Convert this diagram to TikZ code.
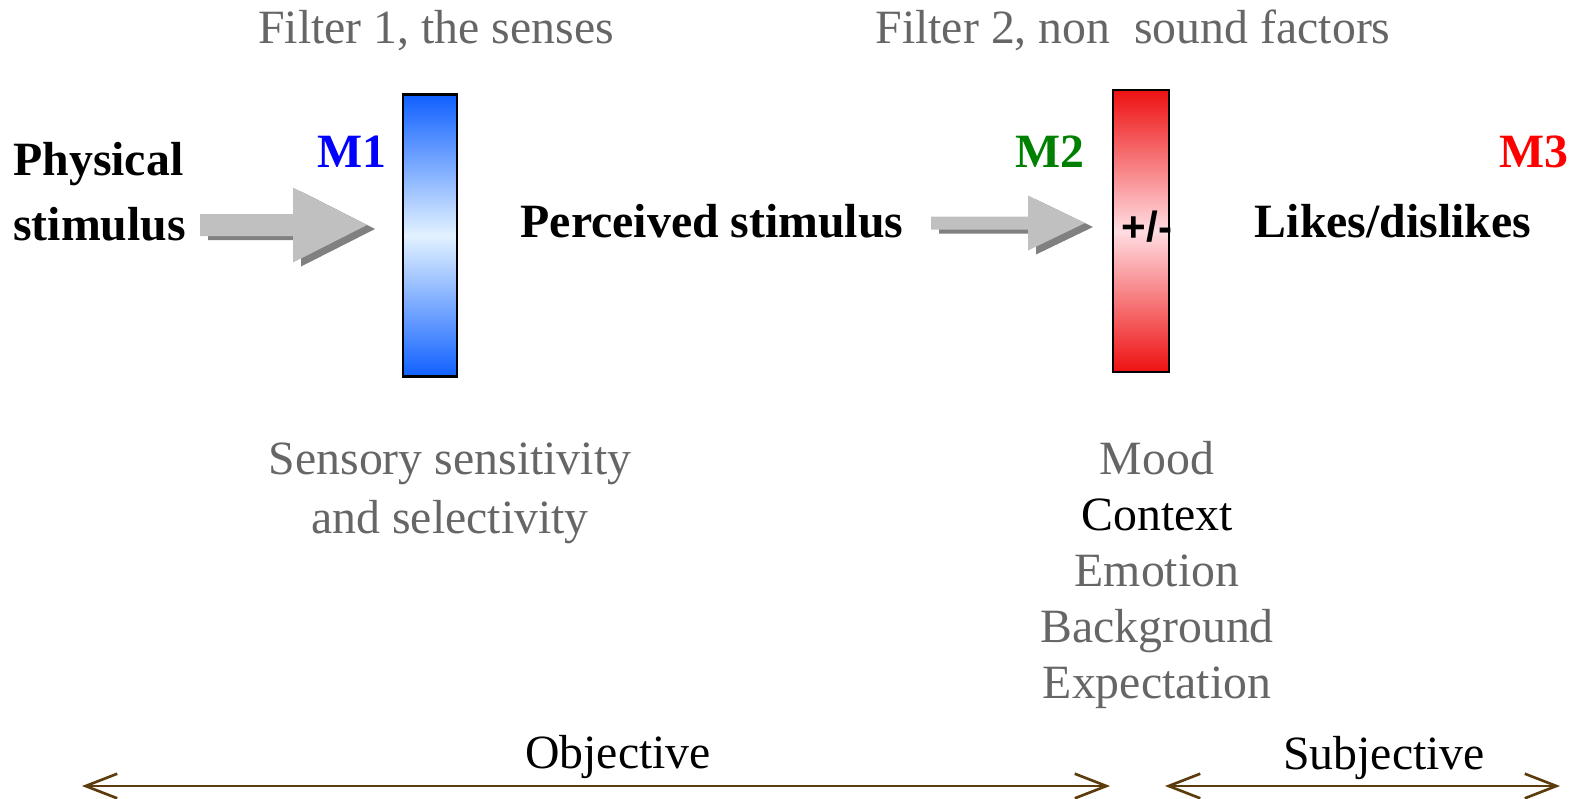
\documentclass[tikz,border=0pt]{standalone}
\usepackage{fontspec}
\setmainfont{Liberation Serif}
\newfontfamily\signfont{Liberation Sans}
\usepackage{xcolor}
\usepackage{tikz}
\usetikzlibrary{arrows.meta, positioning}
\definecolor{textgray}{HTML}{666666}
\definecolor{arrowgray}{HTML}{C0C0C0}
\definecolor{shadowgray}{HTML}{808080}
\definecolor{barblue}{HTML}{1060FF}
\definecolor{barlightblue}{HTML}{E2F2FF}
\definecolor{barred}{HTML}{EE1111}
\definecolor{barpink}{HTML}{FFDDE2}
\definecolor{axisbrown}{HTML}{5C3C0C}
\definecolor{mgreen}{HTML}{008000}

% fat grey arrow with its shadow: tail x, head back x, tip x, y, half body, half head
\newcommand{\fatarrow}[6]{%
  \foreach \sx/\sy/\col in {8/4/shadowgray, 0/0/arrowgray}{
    \fill[\col] (#1+\sx,#4-#5+\sy) -- (#2+\sx,#4-#5+\sy) -- (#2+\sx,#4-#6+\sy)
      -- (#3+\sx,#4+\sy) -- (#2+\sx,#4+#6+\sy) -- (#2+\sx,#4+#5+\sy)
      -- (#1+\sx,#4+#5+\sy) -- cycle;
  }%
}

\begin{document}
\begin{tikzpicture}[
    x=0.02cm, y=-0.02cm,
    txt/.style={font=\fontsize{27.2}{31.8}\selectfont, inner sep=0pt, anchor=base},
    graytxt/.style={txt, text=textgray},
    boldtxt/.style={txt, font=\fontsize{27.2}{31.8}\selectfont\bfseries},
    filterbar/.style={
        rectangle, draw=black, line width=1.6pt,
        minimum width=#1, minimum height=5.64cm, inner sep=0pt
    },
    axis/.style={{Straight Barb[length=18pt, width=14pt]}-{Straight Barb[length=18pt, width=14pt]},
        line width=1.5pt, color=axisbrown}
]
\useasboundingbox (0,0) rectangle (1584,798);

% titles
\node[graytxt] (title1) at (436,43) {Filter 1, the senses};
\node[graytxt] (title2) at (1133,43) {Filter 2, non\ \ sound factors};

% first stage (multi-line nodes sit on their last line)
\node[boldtxt, anchor=base west, align=left] (phys) at (13,240)
    {Physical\\[5pt]stimulus};
\node[boldtxt, text=blue] (m1) at (352,167) {M1};
\node[filterbar=1.08cm, top color=barblue, bottom color=barblue,
      middle color=barlightblue] (bar1) at (430,235.5) {};
\fatarrow{200}{293}{367}{225}{11}{37.5}

% second stage
\node[boldtxt] (perc) at (712,237) {Perceived stimulus};
\node[boldtxt, text=mgreen] (m2) at (1050,167) {M2};
\node[filterbar=1.12cm, top color=barred, bottom color=barred,
      middle color=barpink] (bar2) at (1141,231) {};
\node[font=\signfont\fontsize{24}{28}\selectfont\bfseries, inner sep=0pt] (pm) at (1147,227) {+/-};
\fatarrow{931}{1028}{1085}{223}{6.5}{27.5}

% outcome
\node[boldtxt, text=red] (m3) at (1534,167) {M3};
\node[boldtxt] (likes) at (1393,237) {Likes/dislikes};

% filter factors
\node[graytxt, align=center] (sens) at (450,533)
    {Sensory sensitivity\\[1.5pt]and selectivity};
\node[graytxt, align=center] (factors) at (1157,698)
    {Mood\\\textcolor{black}{Context}\\Emotion\\Background\\Expectation};

% objective / subjective
\coordinate (objl) at (82,786);
\coordinate (objr) at (1110,786);
\coordinate (subl) at (1165,786);
\coordinate (subr) at (1560,786);
\draw[axis] (objl) -- (objr);
\draw[axis] (subl) -- (subr);
\node[txt] (obj) at (618,768) {Objective};
\node[txt] (subj) at (1384,769) {Subjective};

\end{tikzpicture}
\end{document}
